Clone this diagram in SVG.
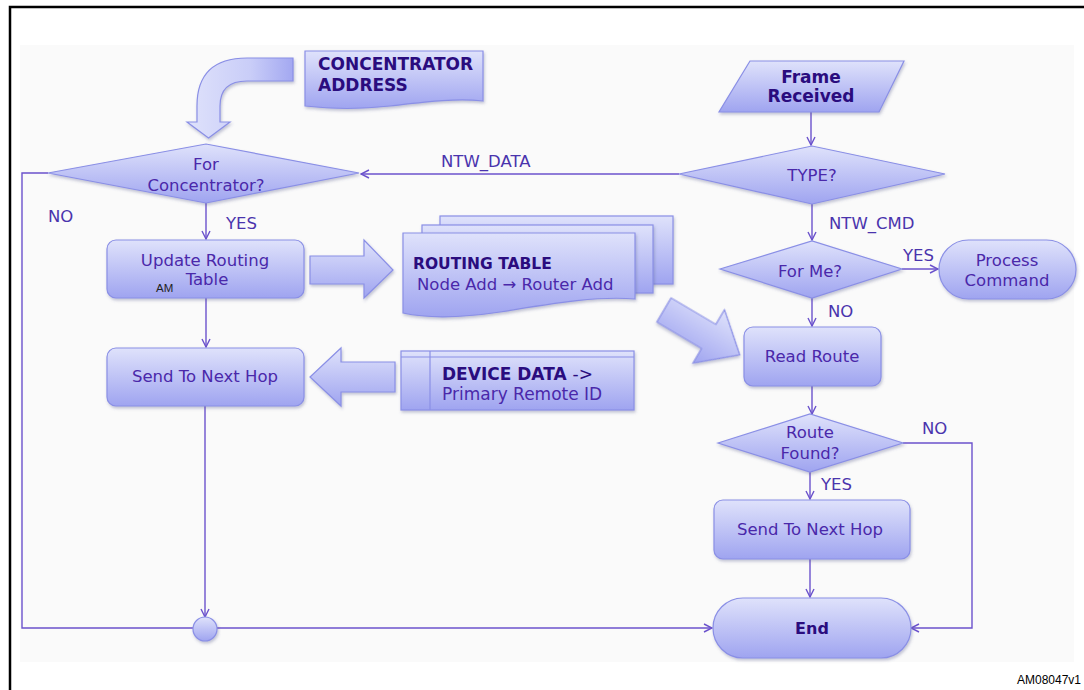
<svg xmlns="http://www.w3.org/2000/svg" width="1084" height="690" viewBox="0 0 1084 690">
<style>
.sh{fill:url(#gv);stroke:#8a8fe6;stroke-width:1.2;filter:url(#ds)}
.t{font-family:"DejaVu Sans",Verdana,sans-serif;font-size:16.5px;fill:#4a28aa;text-anchor:middle}
.b{font-family:"DejaVu Sans",Verdana,sans-serif;font-size:17px;font-weight:bold;fill:#2a0c7e}
.lb{font-family:"DejaVu Sans",Verdana,sans-serif;font-size:16.5px;fill:#4a34ad}
.c{fill:none;stroke:#6b52cc;stroke-width:1.4}
.ca{fill:none;stroke:#6b52cc;stroke-width:1.4;marker-end:url(#ah)}
</style>
<defs>
<linearGradient id="gv" x1="0" y1="0" x2="0" y2="1">
<stop offset="0" stop-color="#dfe2fb"/>
<stop offset="1" stop-color="#9fa4f0"/>
</linearGradient>
<linearGradient id="gh" x1="0" y1="0" x2="1" y2="0">
<stop offset="0" stop-color="#dfe2fb"/>
<stop offset="0.6" stop-color="#c9cdf8"/>
<stop offset="1" stop-color="#a3a8f1"/>
</linearGradient>
<filter id="ds" x="-10%" y="-10%" width="125%" height="140%">
<feDropShadow dx="1" dy="2" stdDeviation="1.5" flood-color="#55588a" flood-opacity="0.35"/>
</filter>
<marker id="ah" viewBox="0 0 10 10" refX="9" refY="5" markerWidth="10" markerHeight="10" markerUnits="userSpaceOnUse" orient="auto">
<path d="M1,1 L9,5 L1,9" fill="none" stroke="#6b52cc" stroke-width="1.4"/>
</marker>
</defs>

<rect x="0" y="0" width="1084" height="690" fill="#ffffff"/>
<rect x="10" y="7" width="1090" height="700" fill="none" stroke="#000" stroke-width="2.5"/>
<rect x="20" y="45" width="1054" height="617" fill="#fafafa"/>

<g id="connectors">
<path class="ca" d="M811,112 V145"/>
<path class="ca" d="M679,174 H361"/>
<path class="ca" d="M812,204 V240"/>
<path class="ca" d="M902,269 H938"/>
<path class="ca" d="M812,298 V326"/>
<path class="ca" d="M812,386 V414"/>
<path class="ca" d="M810,472 V499"/>
<path class="ca" d="M903,443 H972 V628 H911"/>
<path class="ca" d="M810,559 V597"/>
<path class="ca" d="M206,203 V239"/>
<path class="ca" d="M206,298 V347"/>
<path class="ca" d="M205,406 V617"/>
<path class="c" d="M48,173 H22 V628 H193"/>
<path class="ca" d="M217,628 H712"/>
<text class="lb" x="441" y="167">NTW_DATA</text>
<text class="lb" x="829" y="229">NTW_CMD</text>
<text class="lb" x="48" y="222">NO</text>
<text class="lb" x="226" y="229">YES</text>
<text class="lb" x="903" y="261">YES</text>
<text class="lb" x="828" y="317">NO</text>
<text class="lb" x="922" y="434">NO</text>
<text class="lb" x="821" y="490">YES</text>
</g>

<g id="concentrator-arrow">
<path class="sh" style="fill:url(#gh)" d="M293,58 L247,58 Q197,58 197,106 L197,122 L187,122 L208.5,138 L230,122 L220,122 L220,106 Q220,81 247,81 L293,81 Z"/>
</g>

<g id="concentrator-address">
<path class="sh" d="M305,51 H483 V101 C455,98 425,102 390,106 C355,110 330,109 305,106 Z"/>
<text class="b" x="318" y="70">CONCENTRATOR</text>
<text class="b" x="318" y="91">ADDRESS</text>
</g>

<g id="for-concentrator">
<polygon class="sh" points="48,173 206,144 359,173 206,203"/>
<text class="t" x="206" y="170">For</text>
<text class="t" x="206" y="191">Concentrator?</text>
</g>

<g id="update-routing">
<rect class="sh" x="107" y="240" width="197" height="58" rx="9"/>
<text class="t" x="205" y="266">Update Routing</text>
<text class="t" x="207" y="285">Table</text>
<text x="156" y="292" style="font-family:'Liberation Sans',Arial,sans-serif;font-size:11.5px;fill:#222">AM</text>
</g>

<g id="arrow-to-table">
<path class="sh" d="M310,256 H364 V240 L393,270 L364,298 V284 H310 Z"/>
</g>

<g id="routing-table">
<rect class="sh" x="440" y="216" width="233" height="68"/>
<rect class="sh" x="422" y="225" width="231" height="68"/>
<path class="sh" d="M403,233 H635 V299 C600,296 560,302 500,312 C460,318 430,319 403,313 Z"/>
<text class="b" x="413" y="269" style="font-size:15.5px">ROUTING TABLE</text>
<text class="t" x="417" y="290" style="text-anchor:start">Node Add → Router Add</text>
</g>

<g id="send-next-hop-left">
<rect class="sh" x="107" y="348" width="197" height="58" rx="9"/>
<text class="t" x="205" y="382">Send To Next Hop</text>
</g>

<g id="arrow-from-device">
<path class="sh" d="M395,362 H341 V348 L310,377 L341,406 V392 H395 Z"/>
</g>

<g id="device-data">
<rect class="sh" x="401" y="351" width="233" height="59"/>
<line x1="401" y1="357" x2="634" y2="357" stroke="#8a8fe6" stroke-width="1.2"/>
<line x1="430" y1="351" x2="430" y2="410" stroke="#8a8fe6" stroke-width="1.2"/>
<text class="b" x="442" y="380">DEVICE DATA <tspan style="font-weight:normal">-&gt;</tspan></text>
<text class="t" x="442" y="400" style="text-anchor:start;font-size:17px">Primary Remote ID</text>
</g>

<g id="frame-received">
<polygon class="sh" points="750,61 904,61 879,112 719,112"/>
<text class="b" x="811" y="83" text-anchor="middle">Frame</text>
<text class="b" x="811" y="102" text-anchor="middle">Received</text>
</g>

<g id="type">
<polygon class="sh" points="679,174 812,146 945,174 812,204"/>
<text class="t" x="812" y="181">TYPE?</text>
</g>

<g id="for-me">
<polygon class="sh" points="720,269 812,241 902,269 812,298"/>
<text class="t" x="810" y="277">For Me?</text>
</g>

<g id="process-command">
<rect class="sh" x="939" y="240" width="137" height="59" rx="29.5"/>
<text class="t" x="1007" y="266">Process</text>
<text class="t" x="1007" y="286">Command</text>
</g>

<g id="to-read-route-arrow">
<path class="sh" transform="translate(664,310) rotate(30.6)" d="M0,-14 H52 V-31 L88,0 L52,31 V14 H0 Z"/>
</g>

<g id="read-route">
<rect class="sh" x="744" y="327" width="137" height="59" rx="9"/>
<text class="t" x="812" y="362">Read Route</text>
</g>

<g id="route-found">
<polygon class="sh" points="718,443 810,414 903,443 810,472"/>
<text class="t" x="810" y="438">Route</text>
<text class="t" x="810" y="459">Found?</text>
</g>

<g id="send-next-hop-right">
<rect class="sh" x="714" y="500" width="196" height="59" rx="9"/>
<text class="t" x="810" y="535">Send To Next Hop</text>
</g>

<g id="junction">
<circle class="sh" cx="205" cy="629" r="12"/>
</g>

<g id="end">
<rect class="sh" x="713" y="598" width="198" height="60" rx="30"/>
<text class="b" x="812" y="634" text-anchor="middle" style="font-size:16px">End</text>
</g>

<text x="1081" y="684" text-anchor="end" style="font-family:'Liberation Sans',Arial,sans-serif;font-size:12px;fill:#000">AM08047v1</text>
</svg>
